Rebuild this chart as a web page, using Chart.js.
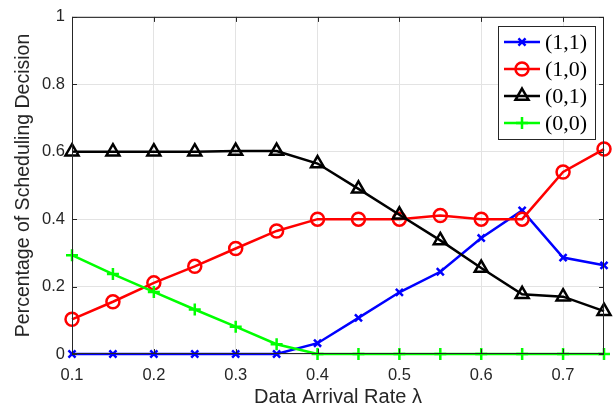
<!DOCTYPE html>
<html>
<head>
<meta charset="utf-8">
<script src="https://cdn.jsdelivr.net/npm/chart.js@4/dist/chart.umd.min.js"></script>
<style>
  html, body { margin: 0; padding: 0; background: #fff; }
  #wrap { width: 616px; height: 409px; }
</style>
</head>
<body>
<div id="wrap"><canvas id="chart" width="616" height="409"></canvas></div>
<script>
// data
const arrivalRates = [0.1, 0.15, 0.2, 0.25, 0.3, 0.35, 0.4, 0.45, 0.5, 0.55, 0.6, 0.65, 0.7, 0.75];
const xTicks = [0.1, 0.2, 0.3, 0.4, 0.5, 0.6, 0.7];
const yTicks = [0, 0.2, 0.4, 0.6, 0.8, 1];
const seriesNames = ['(1,1)', '(1,0)', '(0,1)', '(0,0)'];
const decision11 = [0, 0, 0, 0, 0, 0, 0.032, 0.107, 0.183, 0.244, 0.344, 0.426, 0.286, 0.263];
const decision10 = [0.103, 0.155, 0.211, 0.26, 0.313, 0.365, 0.4, 0.4, 0.4, 0.411, 0.4, 0.4, 0.54, 0.608];
const decision01 = [0.6, 0.6, 0.6, 0.6, 0.602, 0.602, 0.565, 0.49, 0.413, 0.337, 0.255, 0.177, 0.17, 0.127];
const decision00 = [0.293, 0.237, 0.184, 0.132, 0.081, 0.029, 0, 0, 0, 0, 0, 0, 0, 0];

const seriesStyles = [
    { color: '#0000ff', pointStyle: 'crossRot', radius: 5 },
    { color: '#ff0000', pointStyle: 'circle', radius: 6.5 },
    { color: '#000000', pointStyle: 'triangle', radius: 7.5 },
    { color: '#00ff00', pointStyle: 'cross', radius: 6 }
];
const seriesValues = [decision11, decision10, decision01, decision00];

const axisColor = '#262626';
const sansFont = 'Liberation Sans, Arial, sans-serif';

const datasets = seriesValues.map((vals, i) => ({
    label: seriesNames[i],
    data: vals.map((v, j) => ({ x: arrivalRates[j], y: v })),
    borderColor: seriesStyles[i].color,
    backgroundColor: 'rgba(0,0,0,0)',
    borderWidth: 2.5,
    pointStyle: seriesStyles[i].pointStyle,
    pointRadius: seriesStyles[i].radius,
    pointBorderWidth: 2.5,
    pointBorderColor: seriesStyles[i].color,
    pointBackgroundColor: 'rgba(0,0,0,0)',
    tension: 0,
    clip: false,
    order: 3 - i
}));

// box, inward ticks and the legend, MATLAB style
const frameAndLegend = {
    id: 'frameAndLegend',
    afterDraw(chart) {
        const ctx = chart.ctx;
        const a = chart.chartArea;
        const xs = chart.scales.x, ys = chart.scales.y;
        ctx.save();
        ctx.strokeStyle = axisColor;
        ctx.lineWidth = 1;
        ctx.strokeRect(a.left + 0.5, a.top + 0.5, a.right - a.left - 1, a.bottom - a.top - 1);
        ctx.beginPath();
        xTicks.forEach(v => {
            const px = Math.round(xs.getPixelForValue(v)) + 0.5;
            ctx.moveTo(px, a.bottom); ctx.lineTo(px, a.bottom - 5);
            ctx.moveTo(px, a.top); ctx.lineTo(px, a.top + 5);
        });
        yTicks.forEach(v => {
            const py = Math.round(ys.getPixelForValue(v)) + 0.5;
            ctx.moveTo(a.left, py); ctx.lineTo(a.left + 5, py);
            ctx.moveTo(a.right, py); ctx.lineTo(a.right - 5, py);
        });
        ctx.stroke();

        // legend
        const lx = 498, ly = 26, lw = 97, lh = 113;
        ctx.fillStyle = '#fff';
        ctx.fillRect(lx, ly, lw, lh);
        ctx.strokeStyle = axisColor;
        ctx.strokeRect(lx + 0.5, ly + 0.5, lw, lh);
        ctx.font = '22px "Liberation Serif", "DejaVu Serif", serif';
        ctx.textBaseline = 'middle';
        seriesNames.forEach((name, i) => {
            const cy = ly + 16 + i * 27;
            const st = seriesStyles[i];
            ctx.strokeStyle = st.color;
            ctx.lineWidth = 2.5;
            ctx.beginPath();
            ctx.moveTo(lx + 6, cy); ctx.lineTo(lx + 42, cy);
            ctx.stroke();
            ctx.fillStyle = 'rgba(0,0,0,0)';
            Chart.helpers.drawPoint(ctx, {
                pointStyle: st.pointStyle, radius: st.radius, borderWidth: 2.5, rotation: 0
            }, lx + 24, cy);
            ctx.fillStyle = '#000';
            ctx.fillText(name, lx + 47, cy + 1);
        });
        ctx.restore();
    }
};

new Chart(document.getElementById('chart'), {
    type: 'line',
    data: { datasets: datasets },
    options: {
        responsive: false,
        animation: false,
        layout: { padding: { top: 16, right: 12, left: 0, bottom: 0 } },
        plugins: {
            legend: { display: false },
            tooltip: { enabled: false }
        },
        scales: {
            x: {
                type: 'linear',
                min: 0.1,
                max: 0.75,
                afterBuildTicks: axis => { axis.ticks = xTicks.map(v => ({ value: v })); },
                afterFit: axis => { axis.height = 55; },
                grid: { color: '#e3e3e3', drawTicks: false },
                border: { display: false },
                ticks: {
                    padding: 12,
                    color: axisColor,
                    font: { family: sansFont, size: 16.5 },
                    callback: v => v.toFixed(1)
                },
                title: {
                    display: true,
                    text: 'Data Arrival Rate λ',
                    color: axisColor,
                    font: { family: sansFont, size: 20 },
                    padding: { top: 0, bottom: 0 }
                }
            },
            y: {
                min: 0,
                max: 1,
                afterBuildTicks: axis => { axis.ticks = yTicks.map(v => ({ value: v })); },
                afterFit: axis => { axis.width = 72; },
                grid: { color: '#e3e3e3', drawTicks: false },
                border: { display: false },
                ticks: {
                    padding: 7,
                    color: axisColor,
                    font: { family: sansFont, size: 16.5 },
                    callback: v => (v === 0 || v === 1) ? String(v) : v.toFixed(1)
                },
                title: {
                    display: true,
                    text: 'Percentage of Scheduling Decision',
                    color: axisColor,
                    font: { family: sansFont, size: 19.5 },
                    padding: { top: 12, bottom: 0 }
                }
            }
        }
    },
    plugins: [frameAndLegend]
});
</script>
</body>
</html>
